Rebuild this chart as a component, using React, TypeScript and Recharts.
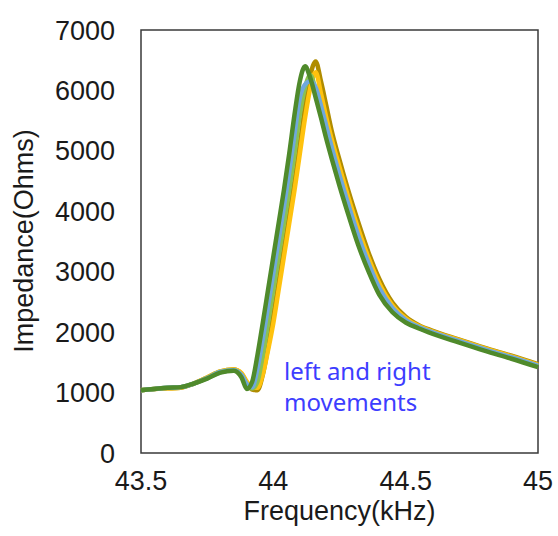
import { Label, Line, LineChart, ReferenceArea, XAxis, YAxis } from "recharts";

const freq = [
  43.5, 43.55, 43.6, 43.65, 43.7, 43.75, 43.8, 43.85, 43.88, 43.9, 43.92, 43.94, 43.96, 43.98, 44.0,
  44.02, 44.04, 44.06, 44.08, 44.1, 44.12, 44.14, 44.16, 44.18, 44.2, 44.22, 44.25, 44.28, 44.32,
  44.36, 44.4, 44.45, 44.5, 44.55, 44.6, 44.7, 44.8, 44.9, 45.0,
];

const darkGreen = [
  1040, 1060, 1080, 1090, 1150, 1230, 1330, 1360, 1250, 1060, 1180, 1620, 2150, 2700, 3250, 3800,
  4350, 4950, 5600, 6150, 6400, 6200, 5880, 5550, 5200, 4880, 4420, 3990, 3450, 3000, 2620, 2330,
  2160, 2060, 1975, 1830, 1690, 1560, 1420,
];
const lightGreen = [
  1040, 1060, 1080, 1090, 1150, 1240, 1340, 1370, 1280, 1130, 1070, 1180, 1620, 2150, 2700, 3250,
  3800, 4350, 4950, 5600, 6050, 6250, 6010, 5680, 5340, 5010, 4540, 4100, 3560, 3090, 2700, 2375,
  2190, 2075, 1990, 1845, 1705, 1575, 1435,
];
const blue = [
  1040, 1060, 1080, 1090, 1150, 1240, 1340, 1370, 1290, 1140, 1090, 1400, 1885, 2425, 2975, 3525,
  4075, 4650, 5275, 5875, 6100, 6150, 6050, 5750, 5410, 5070, 4600, 4160, 3610, 3135, 2735, 2400,
  2200, 2085, 2000, 1855, 1715, 1585, 1445,
];
const yellow = [
  1040, 1060, 1070, 1080, 1150, 1250, 1350, 1380, 1320, 1180, 1090, 1080, 1300, 1700, 2150, 2700,
  3250, 3800, 4350, 4950, 5550, 6050, 6300, 5950, 5550, 5200, 4730, 4280, 3720, 3225, 2810, 2445,
  2230, 2100, 2015, 1870, 1730, 1600, 1460,
];
const olive = [
  1040, 1060, 1070, 1080, 1150, 1250, 1350, 1380, 1310, 1160, 1050, 1040, 1290, 1750, 2290, 2840,
  3390, 3940, 4500, 5110, 5740, 6250, 6480, 6150, 5750, 5340, 4850, 4390, 3830, 3315, 2885, 2490,
  2255, 2115, 2025, 1880, 1740, 1610, 1470,
];

const xTicks = [43.5, 44, 44.5, 45];
const yTicks = [0, 1000, 2000, 3000, 4000, 5000, 6000, 7000];

const series = [
  { key: "olive", color: "#b08c00" },
  { key: "yellow", color: "#ffc20e" },
  { key: "lightGreen", color: "#8cc152" },
  { key: "blue", color: "#6fa8dc" },
  { key: "darkGreen", color: "#4f8a2b" },
];

const data = freq.map((f, i) => ({
  f,
  darkGreen: darkGreen[i],
  lightGreen: lightGreen[i],
  blue: blue[i],
  yellow: yellow[i],
  olive: olive[i],
}));

const font = "'Liberation Sans', Arial, sans-serif";
const tickStyle = { fontSize: 27, fill: "#1a1a1a", fontFamily: font };

export default function App() {
  return (
    <div style={{ position: "absolute", left: 0, top: 0, width: 558, height: 536, background: "#fff" }}>
      <LineChart width={558} height={536} data={data} margin={{ top: 30, right: 20, left: 0, bottom: 0 }}>
        <XAxis
          dataKey="f"
          type="number"
          domain={[43.5, 45]}
          ticks={xTicks}
          tickLine={false}
          axisLine={false}
          tickSize={0}
          tickMargin={18}
          height={83}
          tick={tickStyle}
        >
          <Label
            value="Frequency(kHz)"
            position="insideBottom"
            offset={16}
            style={{ fontSize: 27, fill: "#1a1a1a", fontFamily: font }}
          />
        </XAxis>
        <YAxis
          type="number"
          domain={[0, 7000]}
          ticks={yTicks}
          tickLine={false}
          axisLine={false}
          tickSize={0}
          tickMargin={26}
          width={141}
          tick={tickStyle}
        >
          <Label
            content={() => (
              <text
                x={33}
                y={241}
                transform="rotate(-90 33 241)"
                textAnchor="middle"
                fontSize={27}
                fill="#1a1a1a"
                fontFamily={font}
              >
                Impedance(Ohms)
              </text>
            )}
          />
        </YAxis>
        <ReferenceArea x1={43.5} x2={45} y1={0} y2={7000} fill="none" stroke="#3a3a3a" strokeWidth={1.5} />
        {series.map((s) => (
          <Line
            key={s.key}
            dataKey={s.key}
            type="monotone"
            stroke={s.color}
            strokeWidth={4.5}
            dot={false}
            isAnimationActive={false}
          />
        ))}
      </LineChart>
      <div
        style={{
          position: "absolute",
          left: 284,
          top: 355,
          fontFamily: "'Noto Sans', sans-serif",
          fontSize: 24,
          lineHeight: "31px",
          color: "#3d3dff",
        }}
      >
        left and right
        <br />
        movements
      </div>
    </div>
  );
}
